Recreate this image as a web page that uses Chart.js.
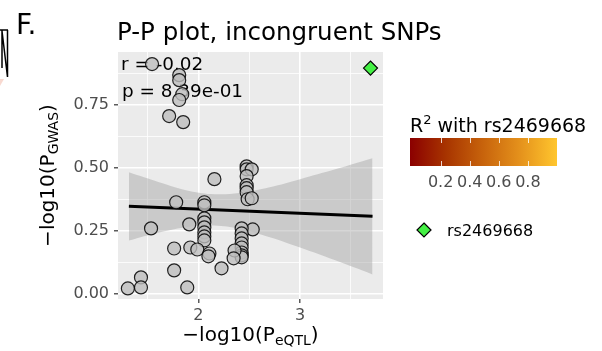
<!DOCTYPE html>
<html>
<head>
<meta charset="utf-8">
<script src="https://cdn.jsdelivr.net/npm/chart.js@4.4.1/dist/chart.umd.min.js"></script>
<style>
  html, body { margin: 0; padding: 0; background: #fff; }
  #wrap { width: 602px; height: 351px; position: relative; }
</style>
</head>
<body>
<div id="wrap"><canvas id="ppChart"></canvas></div>
<script>
// -log10 p values
const eqtlX = [1.545, 1.812, 1.812, 1.842, 1.812, 1.713, 1.851, 2.475, 2.475, 2.525,
  2.475, 2.475, 2.475, 2.475, 2.485, 2.525, 2.158, 1.782, 2.059, 2.059,
  2.059, 2.059, 2.059, 2.059, 2.059, 2.059, 1.535, 1.911, 2.535, 1.762,
  1.921, 1.990, 2.109, 2.099, 2.228, 1.762, 2.426, 2.426, 2.426, 2.426,
  2.426, 2.426, 2.426, 2.426, 2.356, 2.347, 1.436, 1.436, 1.307, 1.891];
const gwasY = [0.913, 0.869, 0.849, 0.793, 0.770, 0.706, 0.682, 0.506, 0.494, 0.494,
  0.467, 0.431, 0.419, 0.403, 0.375, 0.379, 0.455, 0.363, 0.363, 0.351,
  0.299, 0.283, 0.263, 0.243, 0.227, 0.211, 0.259, 0.275, 0.255, 0.179,
  0.183, 0.175, 0.159, 0.148, 0.100, 0.092, 0.259, 0.239, 0.219, 0.199,
  0.183, 0.163, 0.152, 0.144, 0.171, 0.140, 0.064, 0.024, 0.020, 0.024];

const leadName = "rs2469668";
const leadX = [3.693];
const leadY = [0.897];

// lm fit and its confidence ribbon
const fitX = [1.317, 3.713];
const fitY = [0.347, 0.307];
const bandX = [1.317, 1.614, 1.911, 2.158, 2.406, 2.703, 3.0, 3.347, 3.713];
const bandUpper = [0.482, 0.443, 0.408, 0.395, 0.400, 0.423, 0.455, 0.494, 0.538];
const bandLower = [0.211, 0.243, 0.266, 0.271, 0.258, 0.224, 0.183, 0.132, 0.076];

const xTicks = [2, 3];
const xGrid = [1.5, 2, 2.5, 3, 3.5];
const yTicks = [0, 0.25, 0.5, 0.75];
const yGrid = [0, 0.125, 0.25, 0.375, 0.5, 0.625, 0.75, 0.875];
const r2Ticks = [0.2, 0.4, 0.6, 0.8];

const statR = "r = -0.02";
const statP = "p = 8.39e-01";

const FONT = '"DejaVu Sans"';

function toXY(xs, ys) {
  return xs.map((x, i) => ({ x: x, y: ys[i] }));
}

function richWidth(ctx, parts) {
  let w = 0;
  for (const p of parts) {
    ctx.font = p[1] + "px " + FONT;
    w += ctx.measureText(p[0]).width;
  }
  return w;
}

function drawRich(ctx, parts, x, y) {
  let cx = x;
  for (const p of parts) {
    ctx.font = p[1] + "px " + FONT;
    ctx.fillText(p[0], cx, y + p[2]);
    cx += ctx.measureText(p[0]).width;
  }
}

const ggExtras = {
  id: "ggExtras",
  beforeDraw(chart) {
    const { ctx, chartArea: a } = chart;
    ctx.save();
    ctx.fillStyle = "#EBEBEB";
    ctx.fillRect(a.left, a.top, a.right - a.left, a.bottom - a.top);
    ctx.restore();
  },
  beforeDatasetsDraw(chart) {
    const { ctx } = chart;
    ctx.save();
    ctx.fillStyle = "#000";
    ctx.textBaseline = "alphabetic";
    ctx.font = "18.4px " + FONT;
    ctx.fillText(statR, 121, 70);
    ctx.fillText(statP, 122, 97);
    ctx.restore();
  },
  afterDraw(chart) {
    const { ctx, chartArea: a } = chart;
    ctx.save();
    ctx.fillStyle = "#000";
    ctx.textBaseline = "alphabetic";

    // panel letter and title
    ctx.font = "28px " + FONT;
    ctx.fillText("F.", 16, 34);
    ctx.font = "24.5px " + FONT;
    ctx.fillText("P-P plot, incongruent SNPs", 117, 40);

    // x axis title
    const xt = [["\u2212log10(P", 20, 0], ["eQTL", 14, 4], [")", 20, 0]];
    const xw = richWidth(ctx, xt);
    drawRich(ctx, xt, (a.left + a.right) / 2 - xw / 2, 341);

    // y axis title
    const yt = [["\u2212log10(P", 20, 0], ["GWAS", 14, 4], [")", 20, 0]];
    const yw = richWidth(ctx, yt);
    ctx.save();
    ctx.translate(54, (a.top + a.bottom) / 2 + yw / 2);
    ctx.rotate(-Math.PI / 2);
    drawRich(ctx, yt, 0, 0);
    ctx.restore();

    // colour bar legend
    drawRich(ctx, [["R", 19, 0], ["2", 13, -8], [" with " + leadName, 19, 0]], 410, 132);
    const bx0 = 410, bx1 = 557, by0 = 138, by1 = 166;
    const g = ctx.createLinearGradient(bx0, 0, bx1, 0);
    g.addColorStop(0, "#8B0000");
    g.addColorStop(0.25, "#A83500");
    g.addColorStop(0.5, "#C8640C");
    g.addColorStop(0.75, "#E5921C");
    g.addColorStop(1, "#FFC62E");
    ctx.fillStyle = g;
    ctx.fillRect(bx0, by0, bx1 - bx0, by1 - by0);
    const vx = v => 411.5 + v * 145.5;
    ctx.strokeStyle = "rgba(255,255,255,0.8)";
    ctx.lineWidth = 1;
    ctx.font = "16px " + FONT;
    ctx.fillStyle = "#4D4D4D";
    ctx.textAlign = "center";
    for (const t of r2Ticks) {
      const px = Math.round(vx(t)) + 0.5;
      ctx.beginPath();
      ctx.moveTo(px, by0); ctx.lineTo(px, by0 + 5);
      ctx.moveTo(px, by1); ctx.lineTo(px, by1 - 5);
      ctx.stroke();
      ctx.fillText(t.toFixed(1), vx(t), 187);
    }

    // key for the lead SNP
    ctx.fillStyle = "#44F044";
    ctx.strokeStyle = "#000";
    ctx.lineWidth = 1.2;
    ctx.beginPath();
    ctx.moveTo(424, 223); ctx.lineTo(431, 230); ctx.lineTo(424, 237); ctx.lineTo(417, 230);
    ctx.closePath();
    ctx.fill(); ctx.stroke();
    ctx.textAlign = "left";
    ctx.fillStyle = "#000";
    ctx.font = "16px " + FONT;
    ctx.fillText(leadName, 447, 236);

    // sliver of the neighbouring panel
    ctx.strokeStyle = "#000";
    ctx.lineWidth = 1.5;
    ctx.beginPath();
    ctx.moveTo(0, 30); ctx.lineTo(8, 30);
    ctx.moveTo(2, 30); ctx.lineTo(2, 68);
    ctx.moveTo(7.5, 30); ctx.lineTo(7.5, 77);
    ctx.moveTo(2, 31); ctx.lineTo(7.5, 77);
    ctx.stroke();
    ctx.fillStyle = "rgba(240,170,150,0.45)";
    ctx.beginPath();
    ctx.moveTo(0, 79); ctx.lineTo(4, 79); ctx.lineTo(0, 86);
    ctx.closePath();
    ctx.fill();
    ctx.restore();
  }
};

new Chart(document.getElementById("ppChart"), {
  type: "scatter",
  data: {
    datasets: [
      {
        label: leadName,
        data: toXY(leadX, leadY),
        pointStyle: "rectRot",
        pointRadius: 7,
        backgroundColor: "#44F044",
        borderColor: "#000",
        borderWidth: 1.2,
        order: 0
      },
      {
        label: "SNPs",
        data: toXY(eqtlX, gwasY),
        pointRadius: 6.5,
        backgroundColor: "rgba(190,190,190,0.8)",
        borderColor: "rgba(0,0,0,0.85)",
        borderWidth: 1.2,
        order: 1
      },
      {
        type: "line",
        label: "fit",
        data: toXY(fitX, fitY),
        borderColor: "#000",
        borderWidth: 3,
        pointRadius: 0,
        order: 2
      },
      {
        type: "line",
        label: "upper",
        data: toXY(bandX, bandUpper),
        borderWidth: 0,
        borderColor: "rgba(0,0,0,0)",
        pointRadius: 0,
        tension: 0.4,
        fill: "+1",
        backgroundColor: "rgba(153,153,153,0.4)",
        order: 3
      },
      {
        type: "line",
        label: "lower",
        data: toXY(bandX, bandLower),
        borderWidth: 0,
        borderColor: "rgba(0,0,0,0)",
        pointRadius: 0,
        tension: 0.4,
        order: 4
      }
    ]
  },
  options: {
    responsive: true,
    maintainAspectRatio: false,
    animation: false,
    layout: { padding: { left: 0, top: 52, right: 219, bottom: 0 } },
    plugins: {
      legend: { display: false },
      tooltip: { enabled: false }
    },
    scales: {
      x: {
        type: "linear",
        min: 1.21,
        max: 3.816,
        afterBuildTicks: s => { s.ticks = xGrid.map(v => ({ value: v })); },
        afterFit: s => { s.height = 52; },
        border: { display: false },
        grid: {
          color: "#FFFFFF",
          lineWidth: c => xTicks.includes(c.tick.value) ? 1.6 : 0.8,
          tickColor: c => xTicks.includes(c.tick.value) ? "#333333" : "rgba(0,0,0,0)",
          tickLength: 4,
          tickWidth: 1.2
        },
        ticks: {
          autoSkip: false,
          maxRotation: 0,
          padding: 3,
          color: "#4D4D4D",
          font: { family: "DejaVu Sans", size: 16 },
          callback: v => xTicks.includes(v) ? String(v) : ""
        }
      },
      y: {
        type: "linear",
        min: -0.022,
        max: 0.961,
        afterBuildTicks: s => { s.ticks = yGrid.map(v => ({ value: v })); },
        afterFit: s => { s.width = 118; },
        border: { display: false },
        grid: {
          color: "#FFFFFF",
          lineWidth: c => yTicks.includes(c.tick.value) ? 1.6 : 0.8,
          tickColor: c => yTicks.includes(c.tick.value) ? "#333333" : "rgba(0,0,0,0)",
          tickLength: 4,
          tickWidth: 1.2
        },
        ticks: {
          autoSkip: false,
          padding: 5,
          color: "#4D4D4D",
          font: { family: "DejaVu Sans", size: 16 },
          callback: v => yTicks.includes(v) ? v.toFixed(2) : ""
        }
      }
    }
  },
  plugins: [ggExtras]
});
</script>
</body>
</html>
